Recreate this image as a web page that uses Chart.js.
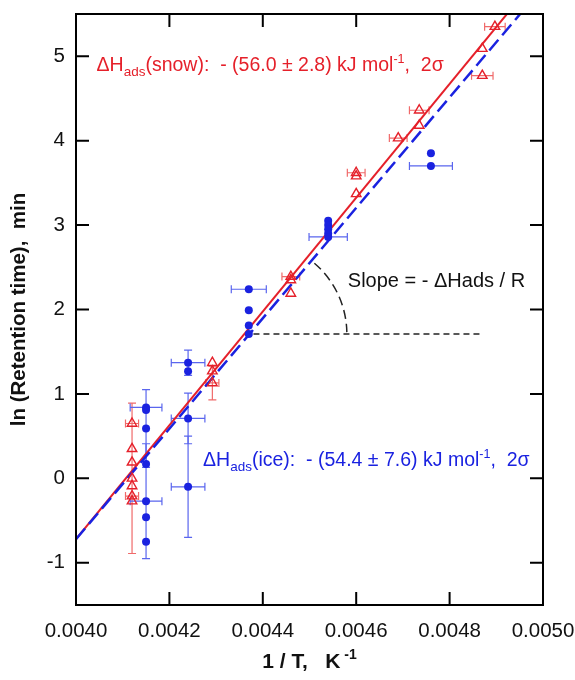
<!DOCTYPE html>
<html>
<head>
<meta charset="utf-8">
<script src="https://cdn.jsdelivr.net/npm/chart.js@4.4.1/dist/chart.umd.min.js"></script>
<style>
  body { margin: 0; background: #fff; }
  #wrap { width: 575px; height: 680px; }
</style>
</head>
<body>
<div id="wrap"><canvas id="chart" width="575" height="680"></canvas></div>
<script>
const FONT = '"Liberation Sans", Arial, Helvetica, sans-serif';
const RED = '#e5202a';
const BLUE = '#1a22e0';

// axis ticks
const xTicks = [0.0040, 0.0042, 0.0044, 0.0046, 0.0048, 0.0050];
const yTicks = [-1, 0, 1, 2, 3, 4, 5];

// ice (blue filled circles)
const iceX = [0.00415, 0.00415, 0.00415, 0.00415, 0.00415, 0.00415, 0.00415,
              0.00424, 0.00424, 0.00424, 0.00424,
              0.00437, 0.00437, 0.00437, 0.00437,
              0.00454, 0.00454, 0.00454, 0.00454, 0.00454,
              0.00476, 0.00476];
const iceY = [0.84, 0.81, 0.59, 0.17, -0.27, -0.46, -0.75,
              1.37, 1.27, 0.71, -0.10,
              2.24, 1.99, 1.81, 1.71,
              3.05, 3.00, 2.95, 2.90, 2.86,
              3.85, 3.70];
const iceXErr = [0.000034, 0, 0, 0, 0.000034, 0, 0,
                 0.000036, 0, 0.000036, 0.000036,
                 0.0000375, 0, 0, 0,
                 0, 0, 0, 0, 0.000041,
                 0, 0.000046];
const iceYErr = [0, 0, 0.46, 0, 0.68, 0, 0,
                 0.15, 0, 0.30, 0.60,
                 0, 0, 0, 0,
                 0, 0, 0, 0, 0,
                 0, 0];

// snow (red open triangles)
const snowX = [0.00412, 0.00412, 0.00412, 0.00412, 0.00412, 0.00412, 0.00412,
               0.004292, 0.004292, 0.004292,
               0.00446, 0.00446, 0.00446,
               0.0046, 0.0046, 0.0046,
               0.00469,
               0.004735, 0.004735,
               0.00487, 0.00487,
               0.004897];
const snowY = [0.65, 0.35, 0.19, 0.0, -0.09, -0.21, -0.27,
               1.37, 1.27, 1.13,
               2.39, 2.35, 2.19,
               3.62, 3.58, 3.37,
               4.03,
               4.36, 4.18,
               5.09, 4.77,
               5.35];
const snowXErr = [0.000014, 0, 0, 0, 0, 0.000014, 0,
                  0, 0, 0.000014,
                  0.000019, 0, 0,
                  0.000019, 0, 0,
                  0.000019,
                  0.000021, 0,
                  0, 0.000023,
                  0.000022];
const snowYErr = [0, 0, 0, 0.89, 0, 0, 0,
                  0, 0, 0.2,
                  0, 0, 0,
                  0, 0, 0,
                  0,
                  0, 0,
                  0, 0,
                  0];

// fitted lines and slope guide
const fitX = [0.0040, 0.0050];
const snowFit = [-0.72, 6.02];
const iceFit = [-0.72, 5.82];
const guideX = [0.00438, 0.00487];
const guideY = [1.71, 1.71];

const pts = (xs, ys) => xs.map((x, i) => ({ x: x, y: ys[i] }));

// text helper: parts drawn one after another with size / vertical shift
function drawRich(ctx, x, y, parts, color) {
    ctx.save();
    ctx.fillStyle = color;
    ctx.textAlign = 'left';
    ctx.textBaseline = 'alphabetic';
    let cx = x;
    parts.forEach(p => {
        ctx.font = (p.bold ? 'bold ' : '') + p.size + 'px ' + FONT;
        ctx.fillText(p.t, cx, y + (p.dy || 0));
        cx += ctx.measureText(p.t).width;
    });
    ctx.restore();
    return cx - x;
}

function richWidth(ctx, parts) {
    let w = 0;
    ctx.save();
    parts.forEach(p => {
        ctx.font = (p.bold ? 'bold ' : '') + p.size + 'px ' + FONT;
        w += ctx.measureText(p.t).width;
    });
    ctx.restore();
    return w;
}

const errorBars = {
    id: 'errorBars',
    beforeDatasetsDraw(chart) {
        const { ctx, chartArea: a, scales: { x, y } } = chart;
        ctx.save();
        ctx.beginPath();
        ctx.rect(a.left, a.top, a.right - a.left, a.bottom - a.top);
        ctx.clip();
        const draw = (xs, ys, xe, ye, color) => {
            ctx.strokeStyle = color;
            ctx.lineWidth = 1.2;
            xs.forEach((v, i) => {
                const px = x.getPixelForValue(v);
                const py = y.getPixelForValue(ys[i]);
                if (xe[i] > 0) {
                    const l = x.getPixelForValue(v - xe[i]);
                    const r = x.getPixelForValue(v + xe[i]);
                    ctx.beginPath();
                    ctx.moveTo(l, py); ctx.lineTo(r, py);
                    ctx.moveTo(l, py - 4); ctx.lineTo(l, py + 4);
                    ctx.moveTo(r, py - 4); ctx.lineTo(r, py + 4);
                    ctx.stroke();
                }
                if (ye[i] > 0) {
                    const t = y.getPixelForValue(ys[i] + ye[i]);
                    const b = y.getPixelForValue(ys[i] - ye[i]);
                    ctx.beginPath();
                    ctx.moveTo(px, t); ctx.lineTo(px, b);
                    ctx.moveTo(px - 4, t); ctx.lineTo(px + 4, t);
                    ctx.moveTo(px - 4, b); ctx.lineTo(px + 4, b);
                    ctx.stroke();
                }
            });
        };
        draw(snowX, snowY, snowXErr, snowYErr, '#f06a6a');
        draw(iceX, iceY, iceXErr, iceYErr, '#5a66ee');

        // slope arc
        const cx = x.getPixelForValue(guideX[0]);
        const cy = y.getPixelForValue(guideY[0]);
        const r = x.getPixelForValue(guideX[0] + 0.0002) - cx;
        ctx.strokeStyle = '#222';
        ctx.lineWidth = 1.5;
        ctx.setLineDash([9, 5]);
        ctx.beginPath();
        ctx.arc(cx, cy, r, -0.86, -0.02);
        ctx.stroke();
        ctx.restore();
    },
    afterDraw(chart) {
        const { ctx, chartArea: a, scales: { x, y } } = chart;
        ctx.save();
        // frame
        ctx.strokeStyle = '#000';
        ctx.lineWidth = 2;
        ctx.strokeRect(a.left, a.top, a.right - a.left, a.bottom - a.top);
        // inward ticks on all sides
        const len = 13;
        ctx.beginPath();
        xTicks.forEach(v => {
            const px = x.getPixelForValue(v);
            if (px <= a.left + 1 || px >= a.right - 1) return;
            ctx.moveTo(px, a.bottom); ctx.lineTo(px, a.bottom - len);
            ctx.moveTo(px, a.top); ctx.lineTo(px, a.top + len);
        });
        yTicks.forEach(v => {
            const py = y.getPixelForValue(v);
            ctx.moveTo(a.left, py); ctx.lineTo(a.left + len, py);
            ctx.moveTo(a.right, py); ctx.lineTo(a.right - len, py);
        });
        ctx.stroke();

        // annotations
        drawRich(ctx, x.getPixelForValue(0.004044), y.getPixelForValue(4.83), [
            { t: '\u0394H', size: 19.5 },
            { t: 'ads', size: 13.5, dy: 5 },
            { t: '(snow):  - (56.0 \u00b1 2.8) kJ mol', size: 19.5 },
            { t: '-1', size: 12.5, dy: -8 },
            { t: ',  2\u03c3', size: 19.5 }
        ], RED);
        drawRich(ctx, x.getPixelForValue(0.004272), y.getPixelForValue(0.145), [
            { t: '\u0394H', size: 19.5 },
            { t: 'ads', size: 13.5, dy: 5 },
            { t: '(ice):  - (54.4 \u00b1 7.6) kJ mol', size: 19.5 },
            { t: '-1', size: 12.5, dy: -8 },
            { t: ',  2\u03c3', size: 19.5 }
        ], BLUE);
        drawRich(ctx, x.getPixelForValue(0.004582), y.getPixelForValue(2.27), [
            { t: 'Slope = - \u0394Hads / R', size: 20 }
        ], '#111');

        // x axis title with superscript
        const xt = [
            { t: '1 / T,   K', size: 21, bold: true },
            { t: ' -1', size: 14, bold: true, dy: -9 }
        ];
        const w = richWidth(ctx, xt);
        drawRich(ctx, (a.left + a.right) / 2 - w / 2, 668, xt, '#111');
        ctx.restore();
    }
};

const ctx = document.getElementById('chart').getContext('2d');
new Chart(ctx, {
    type: 'scatter',
    data: {
        datasets: [
            {
                label: 'ice',
                data: pts(iceX, iceY),
                pointStyle: 'circle',
                pointRadius: 4,
                backgroundColor: BLUE,
                borderColor: BLUE,
                borderWidth: 0
            },
            {
                label: 'snow',
                data: pts(snowX, snowY),
                pointStyle: 'triangle',
                pointRadius: 5.5,
                backgroundColor: 'rgba(255,255,255,0)',
                borderColor: RED,
                borderWidth: 1.4
            },
            {
                label: 'ice fit',
                data: pts(fitX, iceFit),
                showLine: true,
                pointRadius: 0,
                borderColor: BLUE,
                borderWidth: 2.5,
                borderDash: [14, 6]
            },
            {
                label: 'snow fit',
                data: pts(fitX, snowFit),
                showLine: true,
                pointRadius: 0,
                borderColor: RED,
                borderWidth: 2
            },
            {
                label: 'guide',
                data: pts(guideX, guideY),
                showLine: true,
                pointRadius: 0,
                borderColor: '#222',
                borderWidth: 1.5,
                borderDash: [6, 4]
            }
        ]
    },
    options: {
        responsive: false,
        animation: false,
        devicePixelRatio: 1,
        layout: { padding: { left: 0, right: 32, top: 14, bottom: 0 } },
        plugins: {
            legend: { display: false },
            tooltip: { enabled: false }
        },
        scales: {
            x: {
                type: 'linear',
                min: 0.0040,
                max: 0.0050,
                afterBuildTicks: s => { s.ticks = xTicks.map(v => ({ value: v })); },
                afterFit: s => { s.height = 75; s.paddingLeft = 0; s.paddingRight = 0; },
                grid: { display: false, drawTicks: false },
                border: { display: false },
                ticks: {
                    color: '#111',
                    padding: 14,
                    maxRotation: 0,
                    font: { family: FONT, size: 20.5 },
                    callback: v => v.toFixed(4)
                }
            },
            y: {
                type: 'linear',
                min: -1.5,
                max: 5.5,
                afterBuildTicks: s => { s.ticks = yTicks.map(v => ({ value: v })); },
                afterFit: s => { s.width = 76; s.paddingTop = 0; s.paddingBottom = 0; },
                grid: { display: false, drawTicks: false },
                border: { display: false },
                ticks: {
                    color: '#111',
                    padding: 11,
                    font: { family: FONT, size: 20.5 },
                    callback: v => String(v)
                },
                title: {
                    display: true,
                    text: 'ln (Retention time),  min',
                    color: '#111',
                    padding: { top: 7, bottom: 0 },
                    font: { family: FONT, size: 20.5, weight: 'bold' }
                }
            }
        }
    },
    plugins: [errorBars]
});
</script>
</body>
</html>
